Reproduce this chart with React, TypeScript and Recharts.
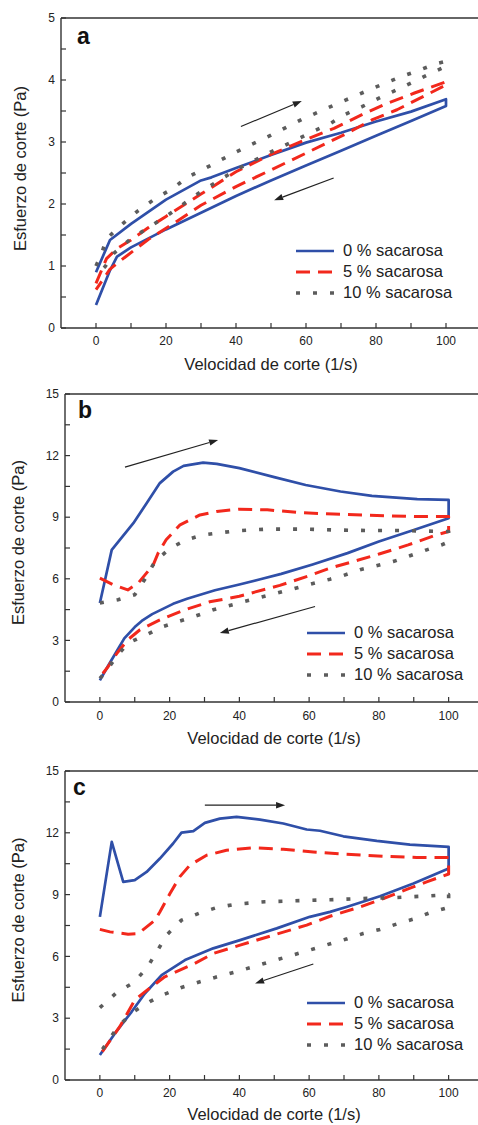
import React from "react";
import { LineChart, Line, XAxis, YAxis, ReferenceLine, Legend } from "recharts";

const FONT = '"Liberation Sans", Arial, Helvetica, sans-serif';
const BLUE = "#2f4fa8";
const RED = "#f2281c";
const GREY = "#5c5c5c";
const AXIS = "#333";

const seriesNames = ["0 % sacarosa", "5 % sacarosa", "10 % sacarosa"];
const xTicks = [0, 10, 20, 30, 40, 50, 60, 70, 80, 90, 100];
const aYTicks = [0, 0.5, 1, 1.5, 2, 2.5, 3, 3.5, 4, 4.5, 5];
const bcYTicks = [0, 1.5, 3, 4.5, 6, 7.5, 9, 10.5, 12, 13.5, 15];

// panel a (loop: up curve then down curve)
const aBlueX = [0, 4, 10, 20, 30, 33, 40, 50, 60, 70, 80, 90, 100, 100, 90, 80, 70, 60, 50, 40, 30, 20, 10, 6, 4, 0];
const aBlueY = [0.9, 1.42, 1.68, 2.07, 2.38, 2.43, 2.58, 2.79, 2.99, 3.15, 3.33, 3.49, 3.69, 3.58, 3.34, 3.1, 2.86, 2.62, 2.38, 2.13, 1.86, 1.59, 1.3, 1.15, 0.93, 0.37];
const aRedX = [0, 3, 6, 10, 15, 20, 30, 40, 50, 60, 68, 76, 83, 91, 100, 100, 93, 86, 79, 71, 60, 50, 40, 30, 22, 15, 8, 4, 1, 0];
const aRedY = [0.72, 1.12, 1.28, 1.42, 1.62, 1.8, 2.16, 2.52, 2.8, 3.04, 3.22, 3.44, 3.62, 3.79, 3.97, 3.92, 3.72, 3.52, 3.36, 3.12, 2.82, 2.55, 2.28, 1.98, 1.68, 1.43, 1.13, 0.95, 0.7, 0.62];
const aGreyX = [0, 1.6, 3, 8, 12, 17, 22, 26, 31, 40, 50, 59, 69, 78, 87, 92, 97, 100, 100, 95, 90, 81, 76, 71, 67, 62, 57, 50, 40, 34, 30, 20, 10, 5, 2.6, 0];
const aGreyY = [1.0, 1.2, 1.44, 1.7, 1.89, 2.09, 2.25, 2.43, 2.57, 2.84, 3.11, 3.37, 3.62, 3.84, 4.05, 4.15, 4.26, 4.3, 4.22, 4.09, 3.95, 3.71, 3.57, 3.44, 3.3, 3.17, 3.03, 2.84, 2.55, 2.34, 2.2, 1.8, 1.44, 1.2, 0.99, 0.85];

// panel b
const bBlueX = [0, 3.4, 9.6, 13.4, 17.2, 21, 24, 29.6, 33.5, 40, 50, 59, 69, 78, 91, 100, 100, 90, 80, 71, 61, 52, 46, 40, 33, 25, 21, 15, 12, 10, 7, 5, 2.5, 0];
const bBlueY = [4.82, 7.41, 8.71, 9.68, 10.66, 11.22, 11.5, 11.66, 11.6, 11.39, 10.95, 10.57, 10.25, 10.04, 9.88, 9.84, 8.95, 8.38, 7.82, 7.25, 6.7, 6.24, 5.98, 5.72, 5.44, 5.03, 4.78, 4.28, 3.95, 3.65, 3.1, 2.52, 1.8, 1.05];
const bRedX = [0, 3.8, 8, 11, 15.3, 16.7, 19, 23, 28.7, 33.5, 40, 48, 57, 67, 76.5, 90.8, 100, 100, 96.5, 88.4, 80.3, 72.6, 66, 60, 51.6, 40, 31.5, 24.4, 17.2, 11.5, 8, 5, 2.4, 0];
const bRedY = [6.03, 5.71, 5.46, 5.79, 6.68, 7.25, 7.9, 8.63, 9.11, 9.28, 9.39, 9.36, 9.23, 9.15, 9.1, 9.03, 9.03, 8.3, 8.14, 7.65, 7.22, 6.84, 6.52, 6.15, 5.68, 5.15, 4.88, 4.49, 4.0, 3.52, 3.03, 2.4, 1.73, 1.2];
const bGreyX = [0, 5.2, 10, 12.9, 15.8, 20.1, 24.9, 29.6, 39.2, 48, 58, 67, 77, 86, 100, 100, 98, 93.7, 88.9, 84.1, 79.3, 74.6, 69.8, 66, 60, 50.7, 41.6, 32.5, 27.2, 22.5, 17.7, 13.4, 8.1, 4.8, 1.4, 0];
const bGreyY = [4.82, 4.98, 5.22, 5.98, 6.84, 7.49, 7.9, 8.14, 8.34, 8.42, 8.42, 8.38, 8.35, 8.35, 8.3, 7.8, 7.65, 7.41, 7.12, 6.84, 6.63, 6.44, 6.16, 5.98, 5.72, 5.3, 4.9, 4.49, 4.17, 3.92, 3.65, 3.28, 2.87, 2.22, 1.41, 1.15];

// panel c
const cBlueX = [0, 3.4, 6.7, 10, 13.4, 17.2, 21, 23.4, 26.8, 30.1, 34.4, 39.2, 45.9, 52.6, 59.3, 63.1, 69.8, 79.4, 88.9, 100, 100, 89.9, 80.3, 70.7, 66, 60.2, 50.7, 40.2, 32.5, 24.4, 17.7, 12.9, 9.1, 4.3, 0];
const cBlueY = [7.92, 11.56, 9.62, 9.7, 10.1, 10.75, 11.48, 12.01, 12.08, 12.48, 12.69, 12.77, 12.64, 12.45, 12.16, 12.1, 11.83, 11.61, 11.43, 11.32, 10.27, 9.54, 8.92, 8.4, 8.16, 7.92, 7.36, 6.79, 6.39, 5.82, 5.09, 4.2, 3.31, 2.26, 1.21];
const cRedX = [0, 2.9, 8.1, 11, 15.8, 17.2, 20.1, 22.9, 25.8, 30.6, 36.3, 44, 52.6, 61.2, 70.7, 81.7, 90.8, 100, 100, 93.7, 88, 81.3, 74.6, 66, 59.3, 49.7, 40.2, 32.5, 27.2, 18.6, 12.9, 10, 5.7, 0];
const cRedY = [7.31, 7.19, 7.08, 7.11, 7.76, 8.16, 9.05, 9.86, 10.43, 10.91, 11.15, 11.27, 11.2, 11.07, 10.96, 10.86, 10.8, 10.8, 10.0, 9.62, 9.25, 8.81, 8.4, 7.95, 7.52, 7.03, 6.55, 6.14, 5.66, 5.01, 4.28, 3.88, 2.59, 1.2];
const cGreyX = [0, 4.8, 9.6, 13.4, 16.3, 19.1, 23.4, 28.7, 33.5, 39.2, 47.3, 56, 66, 75.5, 85, 94.6, 100, 100, 94.6, 89.9, 85.1, 80.3, 75.5, 70.7, 66.4, 60, 50, 40, 33, 28.7, 23.4, 18.6, 14.3, 9.6, 5.2, 1.9, 0];
const cGreyY = [3.51, 4.24, 4.72, 5.42, 6.22, 7.03, 7.76, 8.11, 8.37, 8.54, 8.65, 8.7, 8.75, 8.81, 8.86, 8.94, 9.0, 8.38, 8.12, 7.81, 7.57, 7.31, 7.11, 6.84, 6.63, 6.3, 5.8, 5.3, 4.98, 4.77, 4.49, 4.17, 3.8, 3.31, 2.59, 1.78, 1.3];

// direction arrows [x1, y1, x2, y2] in data units
const aArrows = [[41.4, 3.25, 58.8, 3.66], [67.9, 2.42, 50.9, 2.06]];
const bArrows = [[7.2, 11.44, 33.9, 12.76], [61.7, 4.65, 34.4, 3.36]];
const cArrows = [[30.1, 13.34, 53.1, 13.34], [61.2, 5.63, 44.5, 4.69]];

const zip = (xs: number[], ys: number[]) => xs.map((x, i) => ({ x, y: ys[i] }));

const styles = [
  { color: BLUE, width: 2.7, dash: undefined as string | undefined },
  { color: RED, width: 3, dash: "14 8" },
  { color: GREY, width: 3.6, dash: "4 13" },
];

const ArrowShape = (p: any) => {
  const { x1, y1, x2, y2 } = p;
  const ang = Math.atan2(y2 - y1, x2 - x1);
  const len = 9;
  const half = 3.2;
  const bx = x2 - len * Math.cos(ang);
  const by = y2 - len * Math.sin(ang);
  const px = -Math.sin(ang) * half;
  const py = Math.cos(ang) * half;
  return (
    <g>
      <line x1={x1} y1={y1} x2={bx} y2={by} stroke="#222" strokeWidth={1.2} />
      <polygon points={`${x2},${y2} ${bx + px},${by + py} ${bx - px},${by - py}`} fill="#222" />
    </g>
  );
};

const LegendRows = ({ lineW }: { lineW: number }) => (
  <div style={{ fontFamily: FONT, fontSize: 16.5, color: "#222" }}>
    {seriesNames.map((n, i) => (
      <div key={n} style={{ display: "flex", alignItems: "center", height: 21, whiteSpace: "nowrap" }}>
        <svg width={lineW} height={10} style={{ display: "block" }}>
          <line x1={0} y1={5} x2={lineW} y2={5} stroke={styles[i].color} strokeWidth={styles[i].width} strokeDasharray={styles[i].dash} />
        </svg>
        <span style={{ marginLeft: 9 }}>{n}</span>
      </div>
    ))}
  </div>
);

type PanelCfg = {
  top: number;
  height: number;
  mTop: number;
  mRight: number;
  yAxisW: number;
  xAxisH: number;
  xTickMargin: number;
  yMax: number;
  yTicks: number[];
  yLabelEvery: number;
  series: { x: number; y: number }[][];
  arrows: number[][];
  letter: string;
  letterX: number;
  letterY: number;
  yTitleX: number;
  yTitleY: number;
  xTitleX: number;
  xTitleY: number;
  legendLeft: number;
  legendTop: number;
};

const Panel = ({ c }: { c: PanelCfg }) => (
  <div style={{ position: "absolute", left: 0, top: c.top }}>
    <LineChart width={490} height={c.height} margin={{ top: c.mTop, right: c.mRight, left: 0, bottom: 0 }}>
      <XAxis
        type="number"
        dataKey="x"
        domain={[-10, 110]}
        ticks={xTicks}
        interval={0}
        allowDataOverflow
        height={c.xAxisH}
        tickSize={-5}
        tickMargin={c.xTickMargin}
        tickFormatter={(v: number) => (v % 20 === 0 ? String(v) : "")}
        tick={{ fontSize: 12, fill: "#222", fontFamily: FONT }}
        axisLine={{ stroke: AXIS, strokeWidth: 1.4 }}
        tickLine={{ stroke: AXIS, strokeWidth: 1.2 }}
        label={{
          content: () => (
            <text x={c.xTitleX} y={c.xTitleY} textAnchor="middle" fontSize={16.5} fontFamily={FONT} fill="#222">
              Velocidad de corte (1/s)
            </text>
          ),
        }}
      />
      <YAxis
        type="number"
        domain={[0, c.yMax]}
        ticks={c.yTicks}
        interval={0}
        allowDataOverflow
        width={c.yAxisW}
        tickSize={-5}
        tickMargin={11}
        tickFormatter={(v: number) => (Math.abs(v / c.yLabelEvery - Math.round(v / c.yLabelEvery)) < 1e-6 ? String(v) : "")}
        tick={{ fontSize: 12, fill: "#222", fontFamily: FONT }}
        axisLine={{ stroke: AXIS, strokeWidth: 1.4 }}
        tickLine={{ stroke: AXIS, strokeWidth: 1.2 }}
        label={{
          content: () => (
            <g>
              <text
                x={c.yTitleX}
                y={c.yTitleY}
                transform={`rotate(-90 ${c.yTitleX} ${c.yTitleY})`}
                textAnchor="middle"
                fontSize={16.5}
                fontFamily={FONT}
                fill="#222"
              >
                Esfuerzo de corte (Pa)
              </text>
              <text x={c.letterX} y={c.letterY} fontSize={23} fontWeight="bold" fontFamily={FONT} fill="#111">
                {c.letter}
              </text>
            </g>
          ),
        }}
      />
      <ReferenceLine y={c.yMax} stroke={AXIS} strokeWidth={1.4} />
      {c.arrows.map((a, i) => (
        <ReferenceLine
          key={`arr-${i}`}
          segment={[{ x: a[0], y: a[1] }, { x: a[2], y: a[3] }]}
          shape={ArrowShape}
        />
      ))}
      {c.series.map((d, i) => (
        <Line
          key={seriesNames[i]}
          name={seriesNames[i]}
          data={d}
          dataKey="y"
          type="linear"
          stroke={styles[i].color}
          strokeWidth={styles[i].width}
          strokeDasharray={styles[i].dash}
          strokeLinejoin="round"
          dot={false}
          activeDot={false}
          isAnimationActive={false}
        />
      ))}
      <Legend
        layout="horizontal"
        align="center"
        verticalAlign="middle"
        wrapperStyle={{ left: c.legendLeft, top: c.legendTop, width: 180 }}
        content={() => <LegendRows lineW={38} />}
      />
    </LineChart>
  </div>
);

const panels: PanelCfg[] = [
  {
    top: 0, height: 375, mTop: 18, mRight: 9, yAxisW: 61, xAxisH: 47, xTickMargin: 13,
    yMax: 5, yTicks: aYTicks, yLabelEvery: 1,
    series: [zip(aBlueX, aBlueY), zip(aRedX, aRedY), zip(aGreyX, aGreyY)],
    arrows: aArrows, letter: "a", letterX: 77, letterY: 43.5,
    yTitleX: 26, yTitleY: 168.5, xTitleX: 271, xTitleY: 370,
    legendLeft: 296, legendTop: 240,
  },
  {
    top: 375, height: 380, mTop: 19, mRight: 6.5, yAxisW: 65, xAxisH: 53, xTickMargin: 14,
    yMax: 15, yTicks: bcYTicks, yLabelEvery: 3,
    series: [zip(bBlueX, bBlueY), zip(bRedX, bRedY), zip(bGreyX, bGreyY)],
    arrows: bArrows, letter: "b", letterX: 78, letterY: 43.3,
    yTitleX: 23.5, yTitleY: 167.5, xTitleX: 274, xTitleY: 369,
    legendLeft: 307, legendTop: 247,
  },
  {
    top: 752, height: 373, mTop: 19, mRight: 6.5, yAxisW: 65, xAxisH: 45, xTickMargin: 13,
    yMax: 15, yTicks: bcYTicks, yLabelEvery: 3,
    series: [zip(cBlueX, cBlueY), zip(cRedX, cRedY), zip(cGreyX, cGreyY)],
    arrows: cArrows, letter: "c", letterX: 73, letterY: 43,
    yTitleX: 23.5, yTitleY: 168, xTitleX: 274, xTitleY: 368,
    legendLeft: 307, legendTop: 240,
  },
];

export default function App() {
  return (
    <div style={{ position: "absolute", left: 0, top: 0, width: 478, height: 1125, overflow: "hidden", background: "#fff" }}>
      {panels.map((p) => (
        <Panel key={p.letter} c={p} />
      ))}
    </div>
  );
}
